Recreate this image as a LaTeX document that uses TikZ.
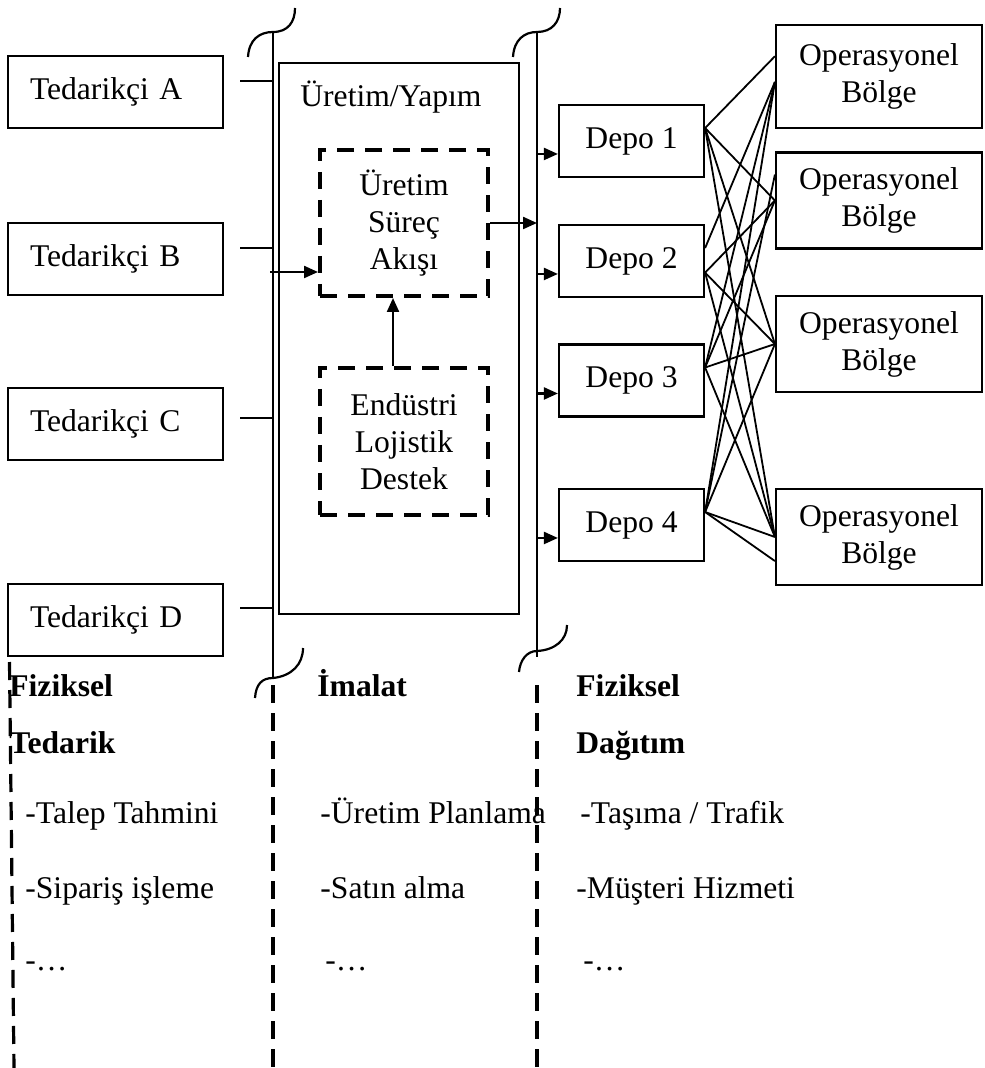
\documentclass[tikz,border=0pt]{standalone}
\usepackage{fontspec}
\setmainfont{Liberation Serif}
\usetikzlibrary{arrows.meta}

\begin{document}
\begin{tikzpicture}[x=0.5pt,y=-0.5pt,every node/.style={font=\fontsize{15.8}{18.5}\selectfont}]
    \tikzstyle{supplier}=[draw,line width=1.1pt,minimum width=107.5pt,minimum height=36pt,inner xsep=11pt,text width=85.5pt,align=left]
    \tikzstyle{plant}=[draw,line width=1.1pt,minimum width=120pt,minimum height=275.5pt]
    \tikzstyle{process}=[draw,line width=2pt,dash pattern=on 8.5pt off 5.5pt,minimum width=84pt,minimum height=73pt,align=center]
    \tikzstyle{depot}=[draw,line width=1.1pt,minimum width=72.5pt,minimum height=36pt]
    \tikzstyle{region}=[draw,line width=1.1pt,minimum width=103pt,minimum height=48pt,align=center]
    \tikzstyle{bus}=[draw,line width=1.1pt]
    \tikzstyle{sep}=[draw,line width=1.6pt,dash pattern=on 9pt off 5pt]
    \tikzstyle{arrow}=[draw,line width=1.1pt,-{Triangle[length=7pt,width=6pt]}]
    \tikzstyle{link}=[draw,line width=0.9pt]
    \tikzstyle{colhead}=[anchor=base west,inner sep=0pt,font=\fontsize{15.8}{18.5}\selectfont\bfseries]
    \tikzstyle{coltext}=[anchor=base west,inner sep=0pt]

    \useasboundingbox (0,0) rectangle (984,1068);

    % suppliers
    \node[supplier] (ta) at (115.5,92) {Tedarikçi A};
    \node[supplier] (tb) at (115.5,259) {Tedarikçi B};
    \node[supplier] (tc) at (115.5,424) {Tedarikçi C};
    \node[supplier] (td) at (115.5,620) {Tedarikçi D};

    % production
    \node[plant] (uret) at (399,338.5) {};
    \node[anchor=west,inner sep=0pt] (uretlbl) at (300,97) {Üretim/Yapım};
    \node[process] (sak) at (404,223) {Üretim\\Süreç\\Akışı};
    \node[process,minimum height=73.5pt] (eld) at (404,441.5) {Endüstri\\Lojistik\\Destek};

    % depots
    \node[depot] (d1) at (631.5,141) {Depo 1};
    \node[depot] (d2) at (631.5,261) {Depo 2};
    \node[depot] (d3) at (631.5,380.5) {Depo 3};
    \node[depot] (d4) at (631.5,525) {Depo 4};

    % regions
    \node[region,minimum height=51.5pt] (o1) at (879,76.5) {Operasyonel\\Bölge};
    \node[region] (o2) at (879,200.5) {Operasyonel\\Bölge};
    \node[region] (o3) at (879,344) {Operasyonel\\Bölge};
    \node[region] (o4) at (879,537) {Operasyonel\\Bölge};

    % bus lines with break marks
    \coordinate (b1top) at (273,32);
    \coordinate (b1bot) at (273,677);
    \coordinate (b2top) at (537,32);
    \coordinate (b2bot) at (537,657);
    \path[bus] (b1top) -- (b1bot);
    \path[bus] (b2top) -- (b2bot);
    \draw[line width=1.1pt] (248,57) .. controls (249,40) and (259,32) .. (273,32) .. controls (288,32) and (295,22) .. (295,8);
    \draw[line width=1.1pt] (513,57) .. controls (514,40) and (524,32) .. (537,32) .. controls (552,32) and (560,22) .. (560,8);
    \draw[line width=1.1pt] (255,698) .. controls (256,684) and (262,678) .. (273,678) .. controls (292,676) and (303,664) .. (303,648);
    \draw[line width=1.1pt] (519,672) .. controls (520,660) and (527,651) .. (537,651) .. controls (555,650) and (567,640) .. (567,625);

    % supplier connectors
    \coordinate (ca) at (240,81);
    \coordinate (cb) at (240,248);
    \coordinate (cc) at (240,418);
    \coordinate (cd) at (240,608);
    \path[bus] (ca) -- (ca -| b1top);
    \path[bus] (cb) -- (cb -| b1top);
    \path[bus] (cc) -- (cc -| b1top);
    \path[bus] (cd) -- (cd -| b1top);

    % flows
    \coordinate (in1) at (270,272);
    \path[arrow] (in1) -- (in1 -| sak.west);
    \path[arrow] (sak.east) -- (sak.east -| b2top);
    \path[arrow] ([xshift=-5.5pt]eld.north) -- ([xshift=-5.5pt]sak.south);
    \foreach \d in {d1,d2,d3,d4}
        \path[arrow] (\d.190 -| b2top) -- (\d.190);

    % depot to region links
    \foreach \a/\b in {d1.10/o1.169, d1.10/o2.west, d1.10/o3.west, d1.10/o4.west,
                       d2.10/o1.183, d2.-9/o2.west, d2.-9/o3.west, d2.-9/o4.west,
                       d3.10/o1.183, d3.10/o2.west, d3.10/o3.west, d3.10/o4.west,
                       d4.10/o1.183, d4.10/o2.166, d4.10/o3.west, d4.10/o4.west, d4.10/o4.193}
        \path[link] (\a) -- (\b);

    % dashed separators
    \path[sep] (9.5,662) -- (14,1068);
    \path[sep] (273,685) -- (273,1068);
    \path[sep] (537,685) -- (537,1068);

    % columns
    \node[colhead] (h1a) at (9,696) {Fiziksel};
    \node[colhead] (h1b) at (9,753) {Tedarik};
    \node[colhead] (h2a) at (317,696) {İmalat};
    \node[colhead] (h3a) at (576,696) {Fiziksel};
    \node[colhead] (h3b) at (576,753) {Dağıtım};

    \node[coltext] (t11) at (25,823) {-Talep Tahmini};
    \node[coltext] (t12) at (25,898) {-Sipariş işleme};
    \node[coltext] (t13) at (25,970) {-…};
    \node[coltext] (t21) at (320,823) {-Üretim Planlama};
    \node[coltext] (t22) at (320,898) {-Satın alma};
    \node[coltext] (t23) at (325,970) {-…};
    \node[coltext] (t31) at (580,823) {-Taşıma / Trafik};
    \node[coltext] (t32) at (576,898) {-Müşteri Hizmeti};
    \node[coltext] (t33) at (583,970) {-…};
\end{tikzpicture}
\end{document}
